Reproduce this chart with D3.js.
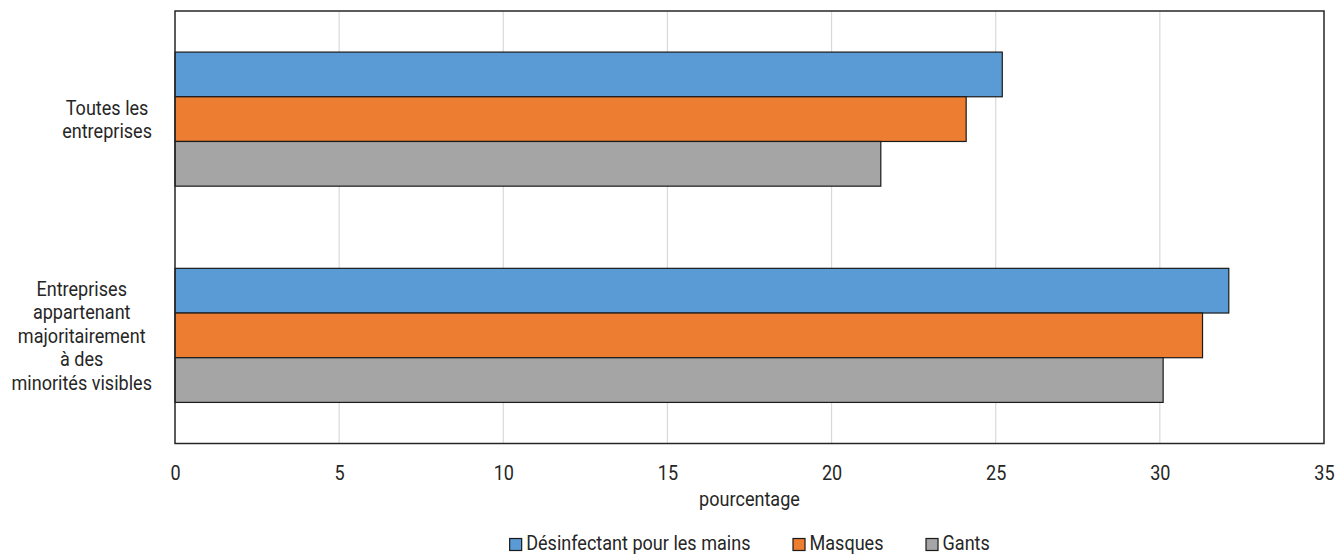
<!DOCTYPE html>
<html><head><meta charset="utf-8">
<script src="https://cdn.jsdelivr.net/npm/d3@7"></script>
<style>
body{margin:0;background:#fff;}
text{font-family:Roboto,"Noto Sans",sans-serif;fill:#262626;}
</style></head>
<body>
<svg id="chart" width="1343" height="555"></svg>
<script>
const categories = [["Toutes les","entreprises"],["Entreprises","appartenant","majoritairement","à des","minorités visibles"]];
const categoryKeys = ["Toutes les entreprises","Entreprises appartenant majoritairement à des minorités visibles"];
const seriesNames = ["Désinfectant pour les mains","Masques","Gants"];
const seriesColors = ["#5B9BD5","#ED7D31","#A5A5A5"];
const desinfectant = [25.2, 32.1];
const masques = [24.1, 31.3];
const gants = [21.5, 30.1];
const xTicks = [0,5,10,15,20,25,30,35];
const axisTitle = "pourcentage";

const values = [desinfectant, masques, gants];
const FS = 21, SX = 0.86;
const svg = d3.select("#chart");
const m = {left:175, right:1324, top:11, bottom:443.5};

const x = d3.scaleLinear().domain([0,35]).range([m.left, m.right]);
const y = d3.scaleBand().domain(categoryKeys).range([m.top, m.bottom]).paddingInner(0.38).paddingOuter(0.19);
const ySub = d3.scaleBand().domain(seriesNames).range([0, y.bandwidth()]);

function label(parent, px, py, str, anchor){
  const g = parent.append("g").attr("transform",`translate(${px},${py}) scale(${SX},1)`);
  const t = g.append("text").attr("x",0).attr("y",0).attr("font-size",FS).attr("text-anchor",anchor||"start").text(str);
  return {g, t, w: t.node().getComputedTextLength()*SX};
}

// gridlines
svg.append("g").selectAll("line").data(xTicks.filter(t=>t>0 && t<35)).join("line")
  .attr("x1",d=>x(d)).attr("x2",d=>x(d)).attr("y1",m.top).attr("y2",m.bottom)
  .attr("stroke","#d9d9d9").attr("stroke-width",1.2);

// bars
categoryKeys.forEach((c,ci)=>{
  seriesNames.forEach((s,si)=>{
    svg.append("rect")
      .attr("x", x(0)).attr("y", y(c)+ySub(s))
      .attr("width", x(values[si][ci]) - x(0)).attr("height", ySub.bandwidth())
      .attr("fill", seriesColors[si]).attr("stroke","#1a1a1a").attr("stroke-width",1.2);
  });
});

// frame
svg.append("rect").attr("x",m.left).attr("y",m.top).attr("width",m.right-m.left).attr("height",m.bottom-m.top)
  .attr("fill","none").attr("stroke","#262626").attr("stroke-width",1.5);

// x axis tick labels
const xAxis = d3.axisBottom(x).tickValues(xTicks).tickSize(0).tickPadding(0).tickFormat(d3.format("d"));
const gx = svg.append("g").attr("transform",`translate(0,${m.bottom})`).call(xAxis);
gx.select(".domain").remove();
gx.selectAll("text").attr("font-size",FS).attr("dy",null).attr("y",0)
  .attr("transform",`translate(0,36.5) scale(${SX},1)`)
  .style("font-family",'Roboto,"Noto Sans",sans-serif').attr("fill","#262626");

// axis title
label(svg, (m.left+m.right)/2, 506, axisTitle, "middle");

// category labels
const lineH = 23.5;
categoryKeys.forEach((c,ci)=>{
  const lines = categories[ci];
  const cy = y(c) + y.bandwidth()/2;
  const t0 = cy - (lines.length-1)*lineH/2 + 7.5;
  const ws = lines.map(l=>{ const tmp = svg.append("text").attr("font-size",FS).text(l); const w = tmp.node().getComputedTextLength()*SX; tmp.remove(); return w; });
  const cx = 152 - d3.max(ws)/2;
  lines.forEach((l,li)=> label(svg, cx, t0 + li*lineH, l, "middle"));
});

// legend
const lg = svg.append("g");
const items = seriesNames.map((s,i)=>{
  const gi = lg.append("g");
  gi.append("rect").attr("x",0.5).attr("y",538.5).attr("width",12).attr("height",12)
    .attr("fill",seriesColors[i]).attr("stroke","#1a1a1a").attr("stroke-width",1.2);
  const L = label(gi, 17, 550, s, "start");
  return {g:gi, w:17 + L.w};
});
const gap = 42;
const total = d3.sum(items,d=>d.w) + gap*(items.length-1);
let cx = (m.left+m.right)/2 - total/2;
items.forEach(it=>{ it.g.attr("transform",`translate(${cx},0)`); cx += it.w + gap; });
</script>
</body></html>
